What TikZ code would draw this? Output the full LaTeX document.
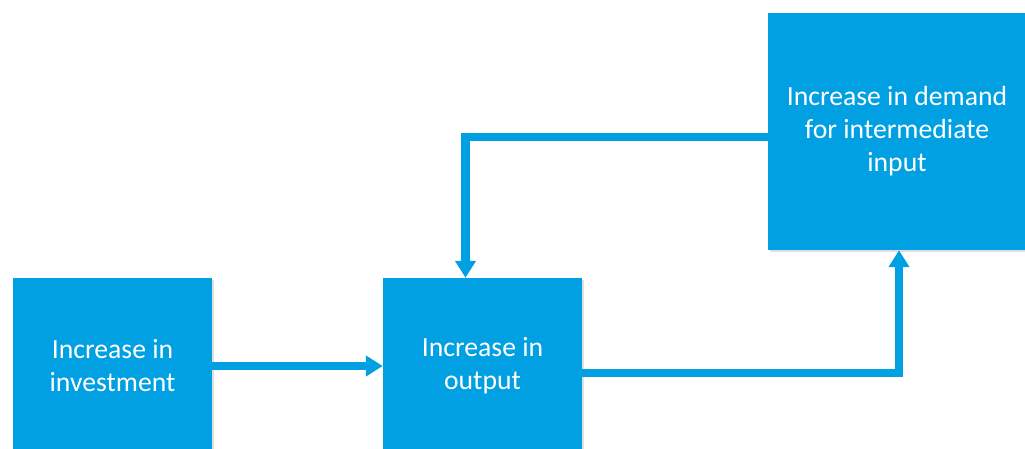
\documentclass[tikz,border=0pt]{standalone}
\usepackage{fontspec}
\setmainfont{Carlito}
\usetikzlibrary{arrows.meta,shadows}
\definecolor{flowblue}{RGB}{0,160,227}
\tikzset{
  box/.style={rectangle, fill=flowblue, draw=none, text=white, align=center,
    font=\fontsize{27.7}{33}\selectfont, inner sep=0pt,
    drop shadow={shadow xshift=1.5pt, shadow yshift=-1.5pt, opacity=0.25}},
  flow/.style={draw=flowblue, line width=8.5pt, line join=miter,
    -{Triangle[width=20pt,length=17pt]}},
}
\begin{document}
\begin{tikzpicture}[x=1pt,y=-1pt]
  \useasboundingbox (0,0) rectangle (1025,449);
  \clip (0,0) rectangle (1025,449);
  \node[box, minimum width=199pt, minimum height=176pt] (inv) at (112.5,366)
    {Increase in\\investment};
  \node[box, minimum width=199pt, minimum height=176pt] (out) at (482.5,366)
    {Increase in\\output};
  \node[box, minimum width=258pt, minimum height=237pt] (dem) at (897,131.5)
    {Increase in demand\\for intermediate\\input};
  \draw[flow] (inv.east) -- (out.west);
  \draw[flow] ([yshift=-7pt]out.east) -| ([xshift=2pt]dem.south);
  \draw[flow] ([yshift=-5.5pt]dem.west) -| ([xshift=-17pt]out.north);
\end{tikzpicture}
\end{document}
